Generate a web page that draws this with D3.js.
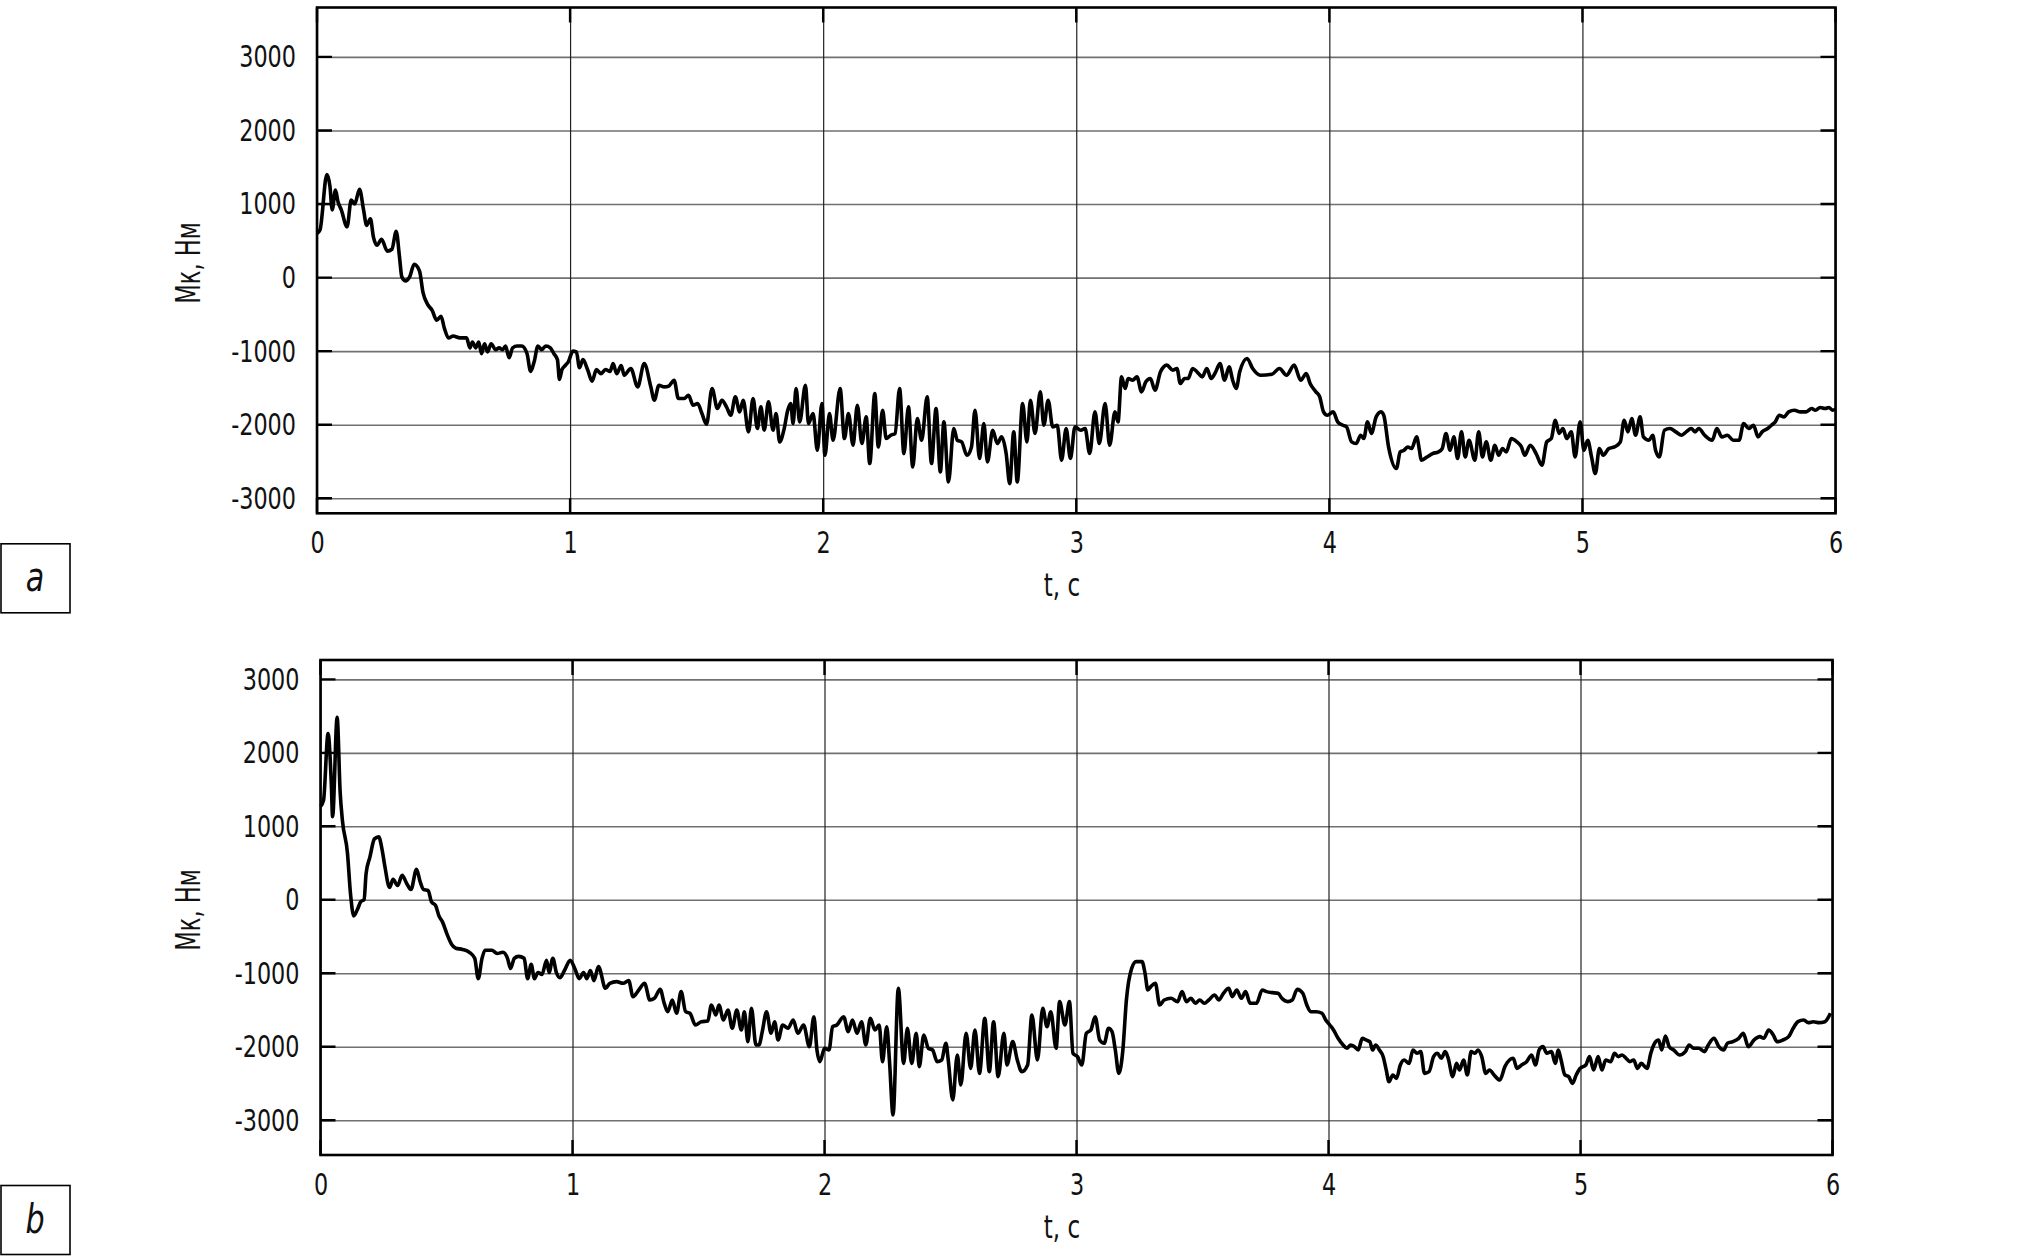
<!DOCTYPE html>
<html>
<head>
<meta charset="utf-8">
<script src="https://cdn.jsdelivr.net/npm/d3@7"></script>
<style>
  body { margin: 0; background: #fff; }
  svg text { font-family: "Liberation Sans Narrow", "DejaVu Sans Condensed", "DejaVu Sans", sans-serif; fill: #111; }
</style>
</head>
<body>
<div id="chart"></div>
<script>
// torque Mk (N·m) vs time t (s), two runs a and b
const xTicks = [0, 1, 2, 3, 4, 5, 6];
const yTicks = [-3000, -2000, -1000, 0, 1000, 2000, 3000];

const timeA = [
  0, .012, .039, .051, .060, .073, .083, .096, .119, .135, .149, .168, .184, .196, .211, .223, .237, .255, .278, .296,
  .313, .326, .335, .349, .366, .384, .405, .419, .437, .455, .473, .490, .503, .520, .538, .565, .591, .604, .614, .627,
  .639, .650, .662, .674, .688, .706, .720, .733, .745, .759, .773, .791, .809, .830, .844, .858, .873, .887, .904, .922,
  .936, .950, .958, .968, .981, .993, 1.011, 1.025, 1.037, 1.051, 1.069, 1.087, 1.104, 1.122, 1.140, 1.158, 1.170, 1.184, 1.202,
  1.214, 1.240, 1.267, 1.293, 1.319, 1.333, 1.351, 1.372, 1.389, 1.411, 1.428, 1.451, 1.468, 1.486, 1.504, 1.521, 1.539, 1.561,
  1.582, 1.600, 1.618, 1.635, 1.653, 1.670, 1.684, 1.705, 1.723, 1.740, 1.754, 1.767, 1.784, 1.802, 1.814, 1.828, 1.846, 1.860,
  1.872, 1.881, 1.893, 1.907, 1.930, 1.942, 1.960, 1.977, 1.995, 2.007, 2.025, 2.039, 2.067, 2.084, 2.100, 2.118, 2.135, 2.153,
  2.170, 2.184, 2.204, 2.218, 2.235, 2.249, 2.267, 2.284, 2.302, 2.319, 2.337, 2.354, 2.372, 2.389, 2.411, 2.428, 2.446, 2.463,
  2.477, 2.495, 2.516, 2.530, 2.547, 2.568, 2.586, 2.600, 2.618, 2.635, 2.649, 2.670, 2.688, 2.705, 2.723, 2.737, 2.753, 2.767,
  2.788, 2.805, 2.819, 2.837, 2.858, 2.872, 2.889, 2.907, 2.925, 2.942, 2.960, 2.977, 2.995, 3.018, 3.035, 3.053, 3.074, 3.091,
  3.114, 3.132, 3.153, 3.165, 3.179, 3.193, 3.205, 3.223, 3.240, 3.258, 3.275, 3.293, 3.311, 3.333, 3.358, 3.381, 3.398, 3.411,
  3.428, 3.442, 3.460, 3.477, 3.498, 3.516, 3.533, 3.551, 3.568, 3.586, 3.604, 3.618, 3.632, 3.646, 3.675,
  3.697, 3.728, 3.773, 3.803, 3.831, 3.861, 3.887, 3.909, 3.924, 3.947, 3.962, 3.977, 3.992, 4.015, 4.033, 4.053, 4.068, 4.088,
  4.106, 4.124, 4.136, 4.151, 4.166, 4.185, 4.204, 4.215, 4.234, 4.265, 4.280, 4.295, 4.310, 4.325, 4.345, 4.356, 4.363, 4.386,
  4.408, 4.431, 4.446, 4.461, 4.477, 4.492, 4.507, 4.522, 4.537, 4.552, 4.575, 4.590, 4.605, 4.620, 4.638, 4.654, 4.669, 4.684,
  4.699, 4.719, 4.741, 4.759, 4.772, 4.794, 4.817, 4.840, 4.859, 4.877, 4.893, 4.908, 4.923, 4.938, 4.956, 4.971, 4.991, 5.006,
  5.021, 5.036, 5.051, 5.067, 5.082, 5.104, 5.127, 5.150, 5.165, 5.180, 5.195, 5.210, 5.228, 5.241, 5.263, 5.278, 5.289, 5.304,
  5.324, 5.346, 5.369, 5.392, 5.410, 5.430, 5.445, 5.460, 5.483, 5.513, 5.531, 5.551, 5.573, 5.596, 5.619, 5.637, 5.657, 5.676,
  5.694, 5.710, 5.732, 5.747, 5.762, 5.778, 5.797, 5.815, 5.838, 5.861, 5.884, 5.906, 5.921, 5.939, 5.959, 5.974, 5.989, 6.0
];
const torqueA = [
  600, 650, 1400, 1245, 920, 1190, 1030, 920, 690, 1055, 1000, 1200, 920, 710, 800, 550, 440, 520, 360, 385,
  630, 280, 10, -45, 10, 180, 90, -205, -365, -445, -580, -525, -685, -820, -795, -820, -820, -955, -875, -955,
  -875, -1035, -900, -1010, -900, -980, -955, -980, -930, -1090, -955, -930, -930, -1035, -1275, -1145, -930, -980, -930, -955,
  -1035, -1115, -1385, -1250, -1195, -1145, -1000, -1010, -1225, -1115, -1250, -1410, -1250, -1305, -1250, -1275, -1170, -1305, -1195,
  -1327, -1236, -1485, -1168, -1485, -1667, -1463, -1485, -1476, -1395, -1644, -1644, -1599, -1735, -1712, -1848, -1993, -1508,
  -1780, -1667, -1757, -1871, -1621, -1825, -1667, -2097, -1644, -2052, -1757, -2075, -1689, -2075, -1848, -2233, -2052, -1803,
  -1712, -1984, -1508, -1961, -1463, -1984, -1848, -2347, -1712, -2415, -1848, -2211, -1508, -2188, -1848, -2279, -1735, -2256,
  -1893, -2528, -1576, -2302, -1803, -2188, -2143, -2120, -1508, -2392, -1757, -2574, -1916, -2211, -1621, -2528, -1780, -2642,
  -1961, -2778, -2052, -2211, -2233, -2415, -2302, -1803, -2460, -1984, -2506, -2075, -2256, -2165, -2392, -2800, -2097, -2778,
  -1712, -2233, -1667, -2120, -1553, -2007, -1667, -2029, -2007, -2483, -2052, -2460, -2029, -2075, -2052, -2392, -1825, -2256,
  -1712, -2279, -1825, -1961, -1349, -1508, -1372, -1395, -1349, -1553, -1417, -1372, -1531, -1281, -1190, -1258, -1236, -1440,
  -1372, -1372, -1236, -1281, -1349, -1236, -1372, -1281, -1168, -1395, -1213, -1395, -1508, -1281, -1100,
  -1236, -1327, -1313, -1236, -1327, -1190, -1395, -1304, -1440, -1553, -1621, -1825, -1871, -1825, -1961, -2007, -2029, -2233,
  -2256, -2143, -2188, -1961, -2120, -1893, -1825, -1871, -2302, -2596, -2370, -2347, -2302, -2324, -2165, -2347, -2483, -2438,
  -2392, -2370, -2324, -2120, -2347, -2165, -2460, -2097, -2438, -2211, -2483, -2097, -2438, -2233, -2483, -2279, -2415, -2324,
  -2370, -2188, -2233, -2302, -2415, -2279, -2392, -2551, -2233, -2188, -1939, -2120, -2052, -2188, -2097, -2438, -1961, -2347,
  -2211, -2438, -2664, -2324, -2415, -2324, -2302, -2233, -1939, -2097, -1916, -2143, -1893, -2165, -2211, -2143, -2347, -2438,
  -2075, -2052, -2097, -2143, -2097, -2052, -2097, -2052, -2143, -2211, -2052, -2165, -2143, -2211, -2211, -1984, -2052, -2007,
  -2165, -2097, -2052, -2007, -1961, -1871, -1893, -1825, -1803, -1825, -1825, -1780, -1803, -1766, -1780, -1766, -1803, -1790
];

const timeB = [
  0, .012, .030, .043, .048, .066, .078, .087, .107, .119, .132, .146, .160, .173, .181, .196, .214, .231, .244, .256,
  .274, .288, .306, .324, .342, .359, .381, .395, .409, .427, .440, .457, .470, .484, .502, .520, .537, .564, .591, .612,
  .626, .641, .653, .680, .701, .724, .742, .754, .769, .786, .808, .822, .836, .849, .863, .879, .897, .907, .922, .936,
  .950, .968, .991, 1.009, 1.027, 1.044, 1.057, 1.071, 1.085, 1.103,
  1.131, 1.148, 1.175, 1.201, 1.223, 1.240, 1.263, 1.286, 1.307, 1.325, 1.348, 1.364, 1.378, 1.396, 1.413, 1.431, 1.449, 1.466,
  1.488, 1.511, 1.537, 1.551, 1.569, 1.581, 1.599, 1.617, 1.634, 1.652, 1.670, 1.682, 1.696, 1.710, 1.728, 1.740, 1.753, 1.770,
  1.788, 1.802, 1.816, 1.834, 1.855, 1.876, 1.894, 1.917, 1.940, 1.958, 1.970, 1.982, 2.000, 2.018, 2.032, 2.049, 2.076, 2.094,
  2.111, 2.129, 2.147, 2.164, 2.182, 2.200, 2.217, 2.230, 2.247, 2.258, 2.272, 2.293, 2.314, 2.329, 2.346, 2.364, 2.376, 2.394,
  2.412, 2.429, 2.447, 2.465, 2.482, 2.491, 2.509, 2.527, 2.541, 2.562, 2.580, 2.597, 2.615, 2.636, 2.654, 2.671, 2.689, 2.712,
  2.724, 2.747, 2.765, 2.783, 2.806, 2.823, 2.845, 2.866, 2.883, 2.898, 2.919, 2.933, 2.954, 2.972, 2.986, 3.004, 3.021, 3.039,
  3.057, 3.074, 3.092, 3.110, 3.127, 3.141, 3.154, 3.168, 3.184, 3.198, 3.219, 3.237, 3.260, 3.272, 3.283, 3.295, 3.313, 3.330,
  3.348, 3.375, 3.401, 3.419, 3.436, 3.454, 3.472, 3.489, 3.507, 3.525, 3.548, 3.565, 3.583, 3.604, 3.618, 3.636, 3.654, 3.671,
  3.689, 3.714, 3.737,
  3.754, 3.777, 3.800, 3.815, 3.838, 3.856, 3.876, 3.898, 3.914, 3.929, 3.951, 3.974, 3.989, 4.005, 4.020, 4.038, 4.058, 4.073,
  4.088, 4.103, 4.118, 4.134, 4.149, 4.164, 4.175, 4.187, 4.202, 4.217, 4.229, 4.240, 4.255, 4.270, 4.285, 4.300, 4.320, 4.335,
  4.351, 4.366, 4.381, 4.399, 4.417, 4.432, 4.448, 4.463, 4.475, 4.493, 4.508, 4.520, 4.536, 4.551, 4.566, 4.581, 4.593, 4.608,
  4.624, 4.639, 4.657, 4.680, 4.700, 4.718, 4.733, 4.748, 4.766, 4.786, 4.806, 4.821, 4.836, 4.851, 4.866, 4.885, 4.900, 4.912,
  4.923, 4.938, 4.953, 4.968, 4.983, 4.998, 5.021, 5.036, 5.052, 5.070, 5.085, 5.100, 5.120, 5.135, 5.150, 5.165, 5.181, 5.196,
  5.211, 5.226, 5.241, 5.264, 5.279, 5.294, 5.310, 5.322, 5.337, 5.352, 5.370, 5.393, 5.416, 5.431, 5.449, 5.469, 5.492, 5.507,
  5.530, 5.549, 5.568, 5.583, 5.605, 5.628, 5.646, 5.666, 5.689, 5.712, 5.727, 5.747, 5.765, 5.780, 5.803, 5.826, 5.844, 5.863,
  5.886, 5.904, 5.924, 5.947, 5.970, 5.985, 5.992
];
const torqueB = [
  1270, 1353, 2262, 1573, 1132, 2482, 1463, 1077, 636, 85, -218, -135, -25, 3, 360, 581, 829, 857, 691, 443,
  168, 278, 195, 333, 223, 140, 416, 250, 140, 129, -25, -80, -218, -300, -466, -604, -659, -675, -714, -796,
  -1072, -796, -686, -686, -730, -714, -796, -934, -796, -769, -796, -1072, -879, -1072, -989, -1017, -824, -989, -796, -989,
  -1061, -962, -824, -934, -1072, -989, -1072, -962, -1099, -907,
  -1204, -1136, -1113, -1136, -1100, -1317, -1227, -1136, -1363, -1340, -1218, -1408, -1522, -1363, -1544, -1249, -1522, -1544,
  -1703, -1658, -1649, -1431, -1567, -1431, -1635, -1499, -1748, -1499, -1771, -1522, -1930, -1476, -1975, -1975, -1794, -1522,
  -1816, -1658, -1907, -1703, -1748, -1635, -1816, -1703, -1998, -1590, -2043, -2202, -2020, -2043, -1726, -1703, -1590, -1794,
  -1635, -1816, -1658, -1975, -1612, -1771, -1703, -2202, -1726, -2202, -2927, -1204, -2225, -1748, -2225, -1816, -2270, -1839,
  -2020, -2043, -2202, -2179, -1952, -2179, -2723, -2111, -2519, -1816, -2293, -1771, -2361, -1612, -2338, -1658, -2406, -1816,
  -2247, -1930, -2179, -2338, -2247, -1567, -2179, -1476, -1726, -1522, -2020, -1385, -1703, -1385, -2088, -2134, -2247, -1816,
  -1771, -1590, -1907, -1952, -1748, -1794, -2043, -2361, -2043, -1363, -932, -841, -841, -1000, -1227, -1181, -1136, -1431,
  -1363, -1340, -1385, -1249, -1385, -1340, -1408, -1363, -1408, -1363, -1295, -1363, -1272, -1204, -1317, -1227, -1340, -1249,
  -1408, -1408, -1227,
  -1249, -1263, -1272, -1340, -1385, -1363, -1218, -1272, -1431, -1522, -1522, -1544, -1635, -1703, -1771, -1884, -1975, -2020,
  -1975, -1998, -2043, -1884, -1907, -1930, -2043, -1975, -2043, -2134, -2315, -2474, -2383, -2429, -2247, -2179, -2225, -2043,
  -2088, -2066, -2361, -2338, -2134, -2088, -2156, -2066, -2156, -2406, -2225, -2315, -2179, -2383, -2066, -2088, -2043, -2134,
  -2361, -2315, -2383, -2451, -2270, -2179, -2156, -2293, -2247, -2202, -2111, -2247, -2043, -1998, -2088, -2066, -2225, -2043,
  -2179, -2383, -2406, -2497, -2383, -2293, -2247, -2134, -2315, -2134, -2315, -2179, -2202, -2088, -2134, -2111, -2156, -2202,
  -2179, -2293, -2225, -2293, -2088, -1952, -1907, -2043, -1853, -1998, -2043, -2111, -2066, -1975, -2020, -2020, -2066, -1975,
  -1884, -1998, -2043, -1952, -1930, -1884, -1816, -1998, -1907, -1862, -1884, -1771, -1839, -1930, -1907, -1862, -1748, -1658,
  -1635, -1671, -1658, -1671, -1658, -1590, -1544
];

const panels = [
  { letter: "a", t: timeA, m: torqueA, left: 317, right: 1835.5, top: 7.5, bottom: 513.3, yMin: -3204, yMax: 3671 },
  { letter: "b", t: timeB, m: torqueB, left: 320.5, right: 1832.5, top: 660, bottom: 1155, yMin: -3472, yMax: 3263 }
];

const svg = d3.select("#chart")
  .append("svg")
  .attr("width", 2020)
  .attr("height", 1258);

// squeeze text horizontally, the original uses a narrow face
function narrow(sel, k) {
  sel.each(function () {
    const w = this.getComputedTextLength();
    d3.select(this)
      .attr("textLength", w * k)
      .attr("lengthAdjust", "spacingAndGlyphs");
  });
}

panels.forEach(p => {
  const width = p.right - p.left;
  const height = p.bottom - p.top;

  const x = d3.scaleLinear().domain([0, 6]).range([0, width]);
  const y = d3.scaleLinear().domain([p.yMin, p.yMax]).range([height, 0]);

  const g = svg.append("g")
    .attr("transform", `translate(${p.left},${p.top})`);

  // horizontal grid
  g.append("g")
    .call(d3.axisLeft(y).tickValues(yTicks).tickSize(-width).tickFormat(""))
    .call(a => a.select(".domain").remove())
    .selectAll("line")
    .attr("stroke", "#707070")
    .attr("stroke-width", 1.6);

  // vertical grid
  g.append("g")
    .attr("transform", `translate(0,${height})`)
    .call(d3.axisBottom(x).tickValues(xTicks).tickSize(height).tickFormat(""))
    .call(a => a.select(".domain").remove())
    .selectAll("line")
    .attr("y2", -height)
    .attr("stroke", "#222")
    .attr("stroke-width", 1.2);

  // short inner ticks on all four sides
  const tk = 15;
  g.selectAll(".ytk")
    .data(yTicks)
    .enter()
    .append("path")
    .attr("d", d => `M0,${y(d)}h${tk}M${width},${y(d)}h${-tk}`)
    .attr("stroke", "#000")
    .attr("stroke-width", 2.4);
  g.selectAll(".xtk")
    .data(xTicks)
    .enter()
    .append("path")
    .attr("d", d => `M${x(d)},0v${tk}M${x(d)},${height}v${-tk}`)
    .attr("stroke", "#000")
    .attr("stroke-width", 2.4);

  // curve
  const line = d3.line()
    .x((d, i) => x(p.t[i]))
    .y(d => y(d))
    .curve(d3.curveMonotoneX);

  g.append("path")
    .datum(p.m)
    .attr("d", line)
    .attr("fill", "none")
    .attr("stroke", "#000")
    .attr("stroke-width", 3.6)
    .attr("stroke-linejoin", "round");

  // frame
  g.append("rect")
    .attr("width", width)
    .attr("height", height)
    .attr("fill", "none")
    .attr("stroke", "#000")
    .attr("stroke-width", 2.6);

  // tick labels
  g.append("g")
    .call(d3.axisLeft(y).tickValues(yTicks).tickSize(0).tickPadding(21).tickFormat(d => String(d)))
    .call(a => a.select(".domain").remove())
    .selectAll("text")
    .attr("font-size", 31)
    .attr("font-family", null)
    .call(narrow, 0.8);

  g.append("g")
    .attr("transform", `translate(0,${height})`)
    .call(d3.axisBottom(x).tickValues(xTicks).tickSize(0).tickPadding(18).tickFormat(d => String(d)))
    .call(a => a.select(".domain").remove())
    .selectAll("text")
    .attr("font-size", 31)
    .attr("font-family", null)
    .call(narrow, 0.8);

  // axis titles
  svg.append("text")
    .attr("transform", `translate(200,${p.top + height * 0.505}) rotate(-90)`)
    .attr("text-anchor", "middle")
    .attr("font-size", 34)
    .text("Мк, Нм")
    .call(narrow, 0.74);

  svg.append("text")
    .attr("x", 1062)
    .attr("y", p.bottom + 83)
    .attr("text-anchor", "middle")
    .attr("font-size", 32)
    .text("t, c")
    .call(narrow, 0.8);

  // panel letter box
  svg.append("rect")
    .attr("x", 1)
    .attr("y", p.bottom + 30.5)
    .attr("width", 69)
    .attr("height", 69)
    .attr("fill", "none")
    .attr("stroke", "#000")
    .attr("stroke-width", 1.6);

  svg.append("text")
    .attr("x", 35)
    .attr("y", p.bottom + 78)
    .attr("text-anchor", "middle")
    .attr("font-size", 40)
    .attr("font-style", "italic")
    .text(p.letter)
    .call(narrow, 0.84);
});
</script>
</body>
</html>
